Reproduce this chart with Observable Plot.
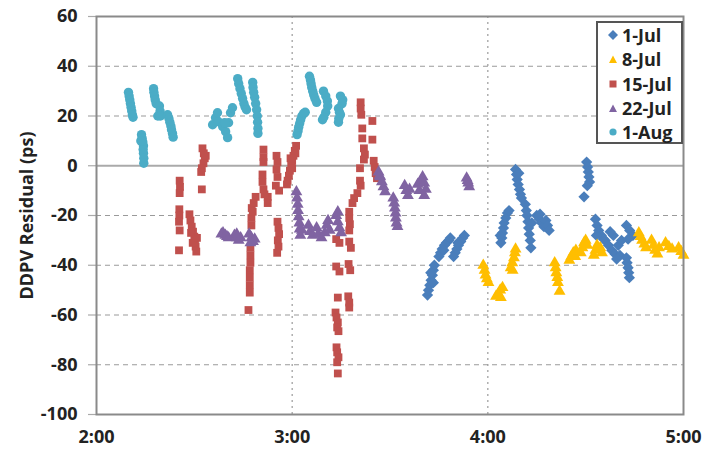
<!DOCTYPE html>
<html>
<head>
<meta charset="utf-8">
<script src="https://cdn.jsdelivr.net/npm/d3@7"></script>
<script src="https://cdn.jsdelivr.net/npm/@observablehq/plot@0.6"></script>
<style>
  html, body { margin: 0; padding: 0; background: #fff; }
  #wrap { position: relative; width: 708px; height: 451px; font-family: "Open Sans", sans-serif; }
  #legend { position: absolute; left: 596px; top: 21px; width: 83px; height: 119px;
    border: 2px solid #555; background: #fff; box-sizing: content-box; }
  .row { position: absolute; left: 0; height: 22px; display: flex; align-items: center;
    font-weight: 700; font-size: 18px; color: #222; }
  .row svg { margin-left: 10px; margin-right: 4px; }
</style>
</head>
<body>
<div id="wrap"></div>
<script>
// time = minutes after midnight (120 = 2:00), value = DDPV residual (ps)
const seriesNames = ["1-Jul", "8-Jul", "15-Jul", "22-Jul", "1-Aug"];
const seriesColors = ["#4a7ebb", "#ffbe00", "#c0504d", "#8064a2", "#4bacc6"];
const xTicks = [120, 180, 240, 300];
const xTickLabels = ["2:00", "3:00", "4:00", "5:00"];
const yTicks = [-100, -80, -60, -40, -20, 0, 20, 40, 60];

const jul1 = [
  [221.5,-52],[221.8,-50],[222.2,-48],[222.6,-46],[223,-44],[223.3,-42],[223.6,-40],[223.3,-47],[222.5,-43],
  [225,-36.5],[225.5,-35],[226,-33.5],[226.7,-32],[227.3,-31],[228,-30],[228.5,-29],[226.5,-34],
  [229.5,-36.5],[230,-35],[230.5,-33.5],[231,-32],[231.7,-30.5],[232.3,-29],[232.8,-28],[230.8,-31],
  [244,-31],[244.3,-29],[244.5,-27],[244.8,-25],[245,-23],[245.5,-21],[246,-19],[246.5,-18],[243.8,-28],
  [248.5,-1.5],[248.8,-3.5],[249,-5.5],[249.3,-7.5],[249.7,-9.5],[250,-11.5],[250.3,-13],[249.5,-3],
  [251.5,-15.5],[251.8,-18],[252,-20],[252.3,-22.5],[252.5,-25],[252.7,-27.5],[253,-30],[253.2,-33],[253.5,-23],
  [255,-20],[255.8,-21.5],[256.5,-23],[257.2,-24.5],[257.8,-22],[258.3,-24],[258.8,-26],[256,-19.5],
  [270.3,1.5],[270.6,-0.5],[270.8,-2.5],[271,-4.5],[271.2,-6.5],[270.5,-8],[269.5,-12.5],
  [273,-21.5],[273.5,-24],[274,-26],[274.8,-28],[275.5,-29.5],[273.3,-28],
  [276,-30],[277,-32],[278,-34],[279,-35.5],[280,-32],[281,-30],[278.5,-28],[277.5,-26.5],[280.5,-36],[279.5,-37.5],
  [282.5,-24],[283.5,-26],[284.5,-28],[283,-29.5],
  [282.5,-37],[282.7,-39],[283,-41],[283.2,-43],[283.4,-45]
];
const jul8 = [
  [238.6,-40],[239,-42],[239.3,-44],[239.7,-45.5],[240.2,-47],
  [242.5,-52.5],[243.2,-51.5],[243.8,-50],[244.5,-49],[244,-53],
  [247,-41],[247.5,-39],[248,-37],[248.3,-35],[248.5,-33.5],[247.6,-42],
  [260.5,-39],[260.8,-41],[261,-43],[261.3,-45],[261.5,-47],[262,-50.5],
  [265,-38],[265.6,-36.5],[266.2,-35],[266.8,-36.5],[267,-34],
  [268.5,-35],[269,-33],[269.5,-31],[270,-30],[270.5,-32],
  [272.5,-36],[273,-34],[273.5,-32],[274.5,-33],[275,-35],
  [286.3,-27],[286.8,-28.5],[287.3,-30],[288,-31.5],[288.5,-33],
  [290.2,-30],[290.8,-32],[291.3,-34],[292,-35.5],[292.5,-33],
  [294.5,-31],[295.5,-32.5],[296.5,-33.5],
  [298.5,-33],[299.3,-34.5],[300,-36]
];
const jul15 = [
  [145.5,-6],[145.6,-8.5],[145.5,-11],[145.4,-17.5],[145.4,-20],[145.3,-22.5],[145.5,-26],[145.3,-34],
  [148.5,-19.5],[148.8,-22],[149.2,-24.5],[149.6,-26.5],[150,-28.5],[150.2,-30.5],[150.4,-32.5],[150.6,-34.5],[149.5,-31],[150.8,-29],[149,-27],
  [152.5,7],[152.9,5],[153.2,3],[152.8,1],[152.3,-1],[152.1,-2.5],[152.3,-9.5],[153.5,4],
  [167.6,-17],[167.5,-21],[167.5,-24],[167.2,-33],[167.2,-36],[167.2,-39],[167,-42],[167,-45],[167,-48],[167,-51],[166.6,-58],
  [171.2,6.5],[171.2,3.5],[171.2,1.5],[170.9,-3.5],[170.9,-6.5],[171.2,-9.5],[168.8,-12.5],[168.2,-15],[167.9,-18.5],[172.5,-12.5],[172.5,-15],[171.5,-11.5],
  [175.2,4],[175.5,1.5],[175.2,-1.5],[175.5,-4.5],[175,-8],[176,-10],[175.5,-22.5],[175.8,-25],[176,-27.5],[175.6,-30],[175.8,-32.5],[175.4,-35],
  [181.2,8],[180.8,6],[180.4,4],[180,2],[179.7,0],[179.3,-2],[179,-4],[178.6,-6],[178.4,-7.5],[181,5],[180,-1],[179.5,3],
  [193.5,-29.5],[194.5,-31],[193.5,-40.5],[194.5,-42.5],[194,-53],[193.3,-59],[193.6,-61],[194,-63],[193.8,-65],[194.2,-66.5],[193.6,-73],[193.8,-75],[194.2,-77],[193.8,-79],[194,-83.5],
  [197.5,-21],[197.7,-23.5],[197.5,-26],[197.5,-30.5],[198,-33],[197.3,-39.5],[197.8,-42],[197.2,-52.5],[197.5,-55],[197.5,-57],
  [201,25.5],[201,23],[201.2,20.5],[204.6,18],[201.5,15],[201.5,11],[204.6,10.5],[202,7],[202.3,4.5],[202,2.5],[205,2],[205.3,-0.5],[205.6,-3],[206,-5],[200.8,-1],[200.8,-6],[201,-8],[200,-11],[199,-13],[198.5,-15],[197.5,-18.5]
];
const jul22 = [
  [158.3,-27.5],[158.8,-27],[159.5,-28],[160,-28.5],[160.5,-29],
  [162.3,-28],[163,-29],[163.6,-30],[164.2,-29],[163,-27.5],
  [166.8,-27.5],[167.5,-29],[168,-30.5],[168.5,-29.5],[167.2,-31],
  [181.3,-10.5],[181.5,-13],[181.7,-15.5],[181.8,-18],[182,-20.5],[182.2,-23],[182.3,-25.5],[182.5,-28],[183,-26],
  [185,-24],[185.5,-26.5],[186.3,-28],[187.5,-25],[188,-27.5],[189,-29],[190,-27],[190.6,-24],[191,-22],[191.5,-26],[193.5,-20],[194,-22.5],[194.5,-25],[194,-18.5],[195,-27],
  [206.5,-2.5],[207,-4.5],[207.5,-6.5],[208,-8.5],[208.5,-10.5],[206.8,-4],
  [211,-13],[211.3,-15],[211.5,-17],[211.7,-19],[211.8,-21],[212,-23],[212.3,-24.5],
  [214.5,-8],[215,-10],[215.5,-12],[216,-9.5],
  [218.5,-7.5],[219.5,-6],[220,-4.5],[220.5,-7],[221,-9.5],[220.5,-12],[219,-10],
  [233.5,-5],[234,-7],[234.3,-8.5],[233.8,-6]
];
const aug1 = [
  [129.8,29.5],[130,28],[130.2,26.5],[130.4,25],[130.6,23.5],[130.8,22],[131,20.5],[131.2,19.5],
  [133.8,12.5],[134,11],[134.2,9.5],[134.4,8],[134.3,6.5],[134.4,5],[134.5,3],[134.5,1],[133.6,10],
  [137.5,31],[137.6,29.5],[137.8,28],[138,26.5],[138.3,25],[139.3,24],[139.5,22],[138.8,20],[139.6,20],
  [141.8,20.5],[142.2,19],[142.5,17.5],[142.8,16],[143,14.5],[143.3,13],[143.5,11.5],
  [155.6,16.5],[156.5,19.3],[157.1,21.3],[157.4,17.7],[158.7,15.7],[159.6,13.7],[160.2,11.3],[160.5,17.3],[161.1,21.3],[161.7,23.3],[159.3,17.3],
  [163.3,35],[163.6,33],[164,31],[164.4,29],[164.8,27],[165.2,25],[165.6,23.5],[166,22.5],
  [167.9,33.5],[168,31.5],[168.2,29.5],[168.5,27.5],[168.8,25],[169.1,22.5],[169.3,20],[169.4,17.5],[169.5,15],[169.5,13],
  [181.5,12.5],[181.8,14],[182,15.5],[182.3,17],[182.6,18.5],[183,20],[183.5,21],[184,21.5],
  [185.3,36],[185.6,34.5],[185.8,33],[186,31.5],[186.3,30],[186.6,28.5],[187,27],[187.5,25.5],
  [189.6,30],[190.3,28],[190.8,26],[190.9,24],[190.3,21.5],[189.7,19.5],[189.3,18.5],
  [194.8,28],[195.5,26.5],[195.3,25],[194.2,23],[194.5,21.5],[194.8,20.5],[194.3,19],[194.2,17.5]
];

const toRows = (arr) => arr.map(([t, v]) => ({t, v}));
const font = "'Open Sans', sans-serif";

const chart = Plot.plot({
  width: 708, height: 451,
  marginLeft: 96, marginRight: 25, marginTop: 16, marginBottom: 37,
  style: {fontFamily: font, fontSize: "18px", fontWeight: "700", color: "#222", background: "#fff"},
  x: {domain: [120, 300]},
  y: {domain: [-100, 60]},
  marks: [
    Plot.ruleY(yTicks.filter(d => d !== 0 && d !== 60 && d !== -100), {stroke: "#9a9a9a", strokeWidth: 1.2, strokeDasharray: "5,4"}),
    Plot.ruleX(xTicks.filter(d => d > 120 && d < 300), {stroke: "#9a9a9a", strokeWidth: 1.2, strokeDasharray: "2,4"}),
    Plot.ruleY([0], {stroke: "#aaaaaa", strokeWidth: 2}),
    Plot.axisY({ticks: yTicks, tickFormat: d => `${d}`, tickSize: 8, tickPadding: 11, stroke: "#aaa", strokeWidth: 1.2,
      label: "DDPV Residual (ps)", labelAnchor: "center", labelArrow: "none", labelOffset: 76}),
    Plot.axisX({ticks: xTicks, tickFormat: d => xTickLabels[xTicks.indexOf(d)], tickSize: 0, tickPadding: 16, label: null}),
    Plot.dot(toRows(jul1), {x: "t", y: "v", symbol: "square", rotate: 45, r: 4.5, fill: seriesColors[0]}),
    Plot.dot(toRows(jul8), {x: "t", y: "v", symbol: "triangle", r: 4.4, fill: seriesColors[1]}),
    Plot.dot(toRows(jul15), {x: "t", y: "v", symbol: "square", r: 4.4, fill: seriesColors[2]}),
    Plot.dot(toRows(jul22), {x: "t", y: "v", symbol: "triangle", r: 4.4, fill: seriesColors[3]}),
    Plot.dot(toRows(aug1), {x: "t", y: "v", symbol: "circle", r: 4.7, fill: seriesColors[4]}),
    Plot.frame({stroke: "#8a8a8a", strokeWidth: 2})
  ]
});

const wrap = document.getElementById("wrap");
wrap.appendChild(chart);

// legend
const legend = document.createElement("div");
legend.id = "legend";
const symbols = [
  `<polygon points="5,0 10,5 5,10 0,5"/>`,
  `<polygon points="5,1.5 9,9 1,9"/>`,
  `<rect x="1.5" y="1.5" width="7" height="7"/>`,
  `<polygon points="5,1.5 9,9 1,9"/>`,
  `<circle cx="5" cy="5" r="3.6"/>`
];
seriesNames.forEach((name, i) => {
  const row = document.createElement("div");
  row.className = "row";
  row.style.top = (1 + i * 24.3) + "px";
  row.innerHTML = `<svg width="10" height="10" viewBox="0 0 10 10" fill="${seriesColors[i]}">${symbols[i]}</svg><span>${name}</span>`;
  legend.appendChild(row);
});
wrap.appendChild(legend);
</script>
</body>
</html>
